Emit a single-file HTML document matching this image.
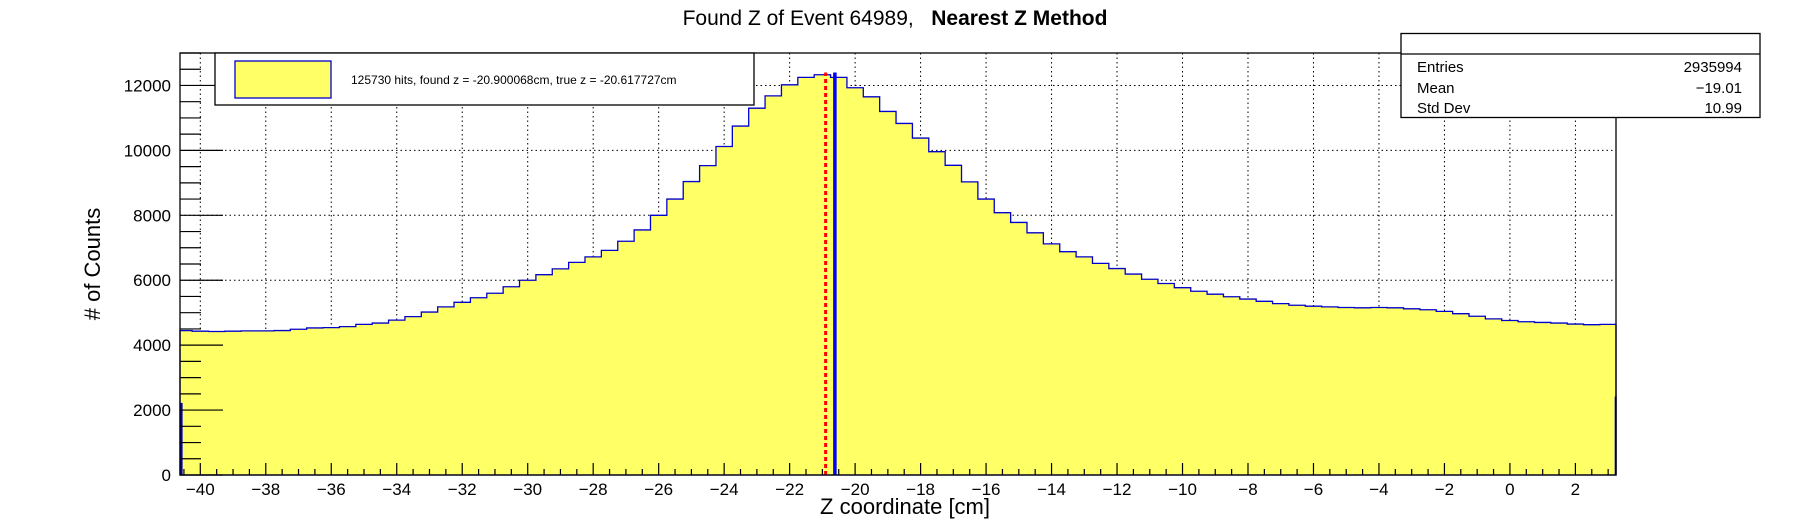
<!DOCTYPE html>
<html><head><meta charset="utf-8"><style>
html,body{margin:0;padding:0;background:#fff;}
svg{display:block;font-family:"Liberation Sans",sans-serif;}
</style></head><body>
<svg id="c" width="1796" height="522" viewBox="0 0 1796 522" xmlns="http://www.w3.org/2000/svg">
<rect x="0" y="0" width="1796" height="522" fill="#fff"/>
<text x="895" y="25" text-anchor="middle" font-size="21">Found Z of Event 64989,&#160;&#160;&#160;<tspan font-weight="bold">Nearest Z Method</tspan></text>
<g id="grid"></g>
<g id="hist"></g>
<g id="marks"></g>
<rect x="180" y="53" width="1436" height="422" fill="none" stroke="#000" stroke-width="1.3"/>
<g id="axes"></g>
<text transform="translate(100,264) rotate(-90)" text-anchor="middle" font-size="22"># of Counts</text>
<text x="990" y="514" text-anchor="end" font-size="22">Z coordinate [cm]</text>
<g>
<rect x="215" y="53" width="539" height="52" fill="#fff" stroke="#000" stroke-width="1.3"/>
<rect x="235" y="61" width="96" height="37" fill="#ffff66" stroke="#0000cc" stroke-width="1.3"/>
<text x="351" y="84" font-size="12">125730 hits, found z = -20.900068cm, true z = -20.617727cm</text>
</g>
<g>
<rect x="1401" y="33.5" width="359" height="84" fill="#fff" stroke="#000" stroke-width="1.3"/>
<line x1="1401" y1="54" x2="1760" y2="54" stroke="#000" stroke-width="1.3"/>
<text x="1417" y="72" font-size="15">Entries</text><text x="1742" y="72" font-size="15" text-anchor="end">2935994</text>
<text x="1417" y="93" font-size="15">Mean</text><text x="1742" y="93" font-size="15" text-anchor="end">−19.01</text>
<text x="1417" y="113" font-size="15">Std Dev</text><text x="1742" y="113" font-size="15" text-anchor="end">10.99</text>
</g>
</svg>
<script>
const binCenters=[-40.5,-40,-39.5,-39,-38.5,-38,-37.5,-37,-36.5,-36,-35.5,-35,-34.5,-34,-33.5,-33,-32.5,-32,-31.5,-31,-30.5,-30,-29.5,-29,-28.5,-28,-27.5,-27,-26.5,-26,-25.5,-25,-24.5,-24,-23.5,-23,-22.5,-22,-21.5,-21,-20.5,-20,-19.5,-19,-18.5,-18,-17.5,-17,-16.5,-16,-15.5,-15,-14.5,-14,-13.5,-13,-12.5,-12,-11.5,-11,-10.5,-10,-9.5,-9,-8.5,-8,-7.5,-7,-6.5,-6,-5.5,-5,-4.5,-4,-3.5,-3,-2.5,-2,-1.5,-1,-0.5,0,0.5,1,1.5,2,2.5,3];
const counts=[4450,4430,4420,4430,4440,4440,4450,4490,4530,4540,4570,4640,4680,4770,4880,5020,5180,5320,5460,5600,5800,6000,6170,6350,6550,6720,6920,7200,7550,8000,8500,9040,9530,10120,10750,11300,11680,12020,12250,12330,12250,11930,11650,11200,10830,10380,9960,9540,9030,8500,8080,7780,7460,7120,6880,6720,6520,6360,6190,6030,5900,5770,5660,5570,5490,5420,5350,5280,5230,5200,5180,5160,5150,5160,5150,5120,5090,5040,4970,4890,4810,4760,4720,4700,4680,4650,4630,4640];
const edgeBinsX=[-40.6,3.22];
const edgeBinsY=[2200,2400];
const xTicks=[-40,-38,-36,-34,-32,-30,-28,-26,-24,-22,-20,-18,-16,-14,-12,-10,-8,-6,-4,-2,0,2];
const yTicks=[0,2000,4000,6000,8000,10000,12000];
const foundZ=-20.900068, trueZ=-20.617727, markerTop=12400;

const NS="http://www.w3.org/2000/svg";
const L=180,R=1616,T=53,B=475,xmin=-40.62,xmax=3.24,ymin=0,ymax=13000;
const X=v=>L+(v-xmin)/(xmax-xmin)*(R-L);
const Y=v=>B-(v-ymin)/(ymax-ymin)*(B-T);
function mk(tag,attrs,parent){const e=document.createElementNS(NS,tag);for(const k in attrs)e.setAttribute(k,attrs[k]);parent.appendChild(e);return e;}
const grid=document.getElementById('grid'),hist=document.getElementById('hist'),axes=document.getElementById('axes'),marks=document.getElementById('marks');
const hw=0.25;
let d="M"+X(xmin)+","+Y(0);
binCenters.forEach((c,i)=>{const a=Math.max(xmin,c-hw),b=Math.min(xmax,c+hw);d+=" L"+X(a)+","+Y(counts[i])+" L"+X(b)+","+Y(counts[i]);});
d+=" L"+X(xmax)+","+Y(0)+" Z";
const hp=mk('path',{d:d,fill:'#ffff66',stroke:'#0000cc','stroke-width':1.3},hist);


edgeBinsX.forEach((v,i)=>{const a=Math.max(xmin,v),b=Math.min(xmax,v+0.04);
const r=mk('rect',{x:X(a),y:Y(edgeBinsY[i]),width:X(b)-X(a),height:Y(0)-Y(edgeBinsY[i]),fill:'#fff'},hist);


const seg=mk('path',{d:"M"+X(a)+","+Y(0)+" V"+Y(edgeBinsY[i])+" H"+X(b)+" V"+Y(0),fill:'#ffff66',stroke:'#0000cc','stroke-width':1.3},hist);

});
xTicks.forEach(v=>{const g=mk('line',{x1:X(v),x2:X(v),y1:T,y2:B,stroke:'#000','stroke-width':1,'stroke-dasharray':'1.5,3'},grid);

});
yTicks.forEach(v=>{const g=mk('line',{x1:L,x2:R,y1:Y(v),y2:Y(v),stroke:'#000','stroke-width':1,'stroke-dasharray':'1.5,3'},grid);

});
const rl=mk('line',{x1:X(foundZ),x2:X(foundZ),y1:Y(0),y2:Y(markerTop),stroke:'#ff0000','stroke-width':3,'stroke-dasharray':'4,3'},marks);


const bl=mk('line',{x1:X(trueZ),x2:X(trueZ),y1:Y(0),y2:Y(markerTop),stroke:'#0000ff','stroke-width':3.5},marks);


for(let v=-40.5;v<=3.24;v+=0.5){const major=Math.abs(v%2)<1e-6;
const t=mk('line',{x1:X(v),x2:X(v),y1:B,y2:B-(major?12:6),stroke:'#000','stroke-width':1.2},axes);

}
xTicks.forEach(v=>{const t=mk('text',{x:X(v),y:495,'text-anchor':'middle','font-size':17},axes);t.textContent=(v<0?'−'+(-v):String(v));

});
for(let v=0;v<=13000;v+=500){const major=v%2000===0;
const t=mk('line',{x1:L,x2:L+(major?43:21),y1:Y(v),y2:Y(v),stroke:'#000','stroke-width':1.2},axes);

}
yTicks.forEach(v=>{const t=mk('text',{x:171,y:Y(v)+6,'text-anchor':'end','font-size':17},axes);t.textContent=String(v);

});
</script>
</body></html>
